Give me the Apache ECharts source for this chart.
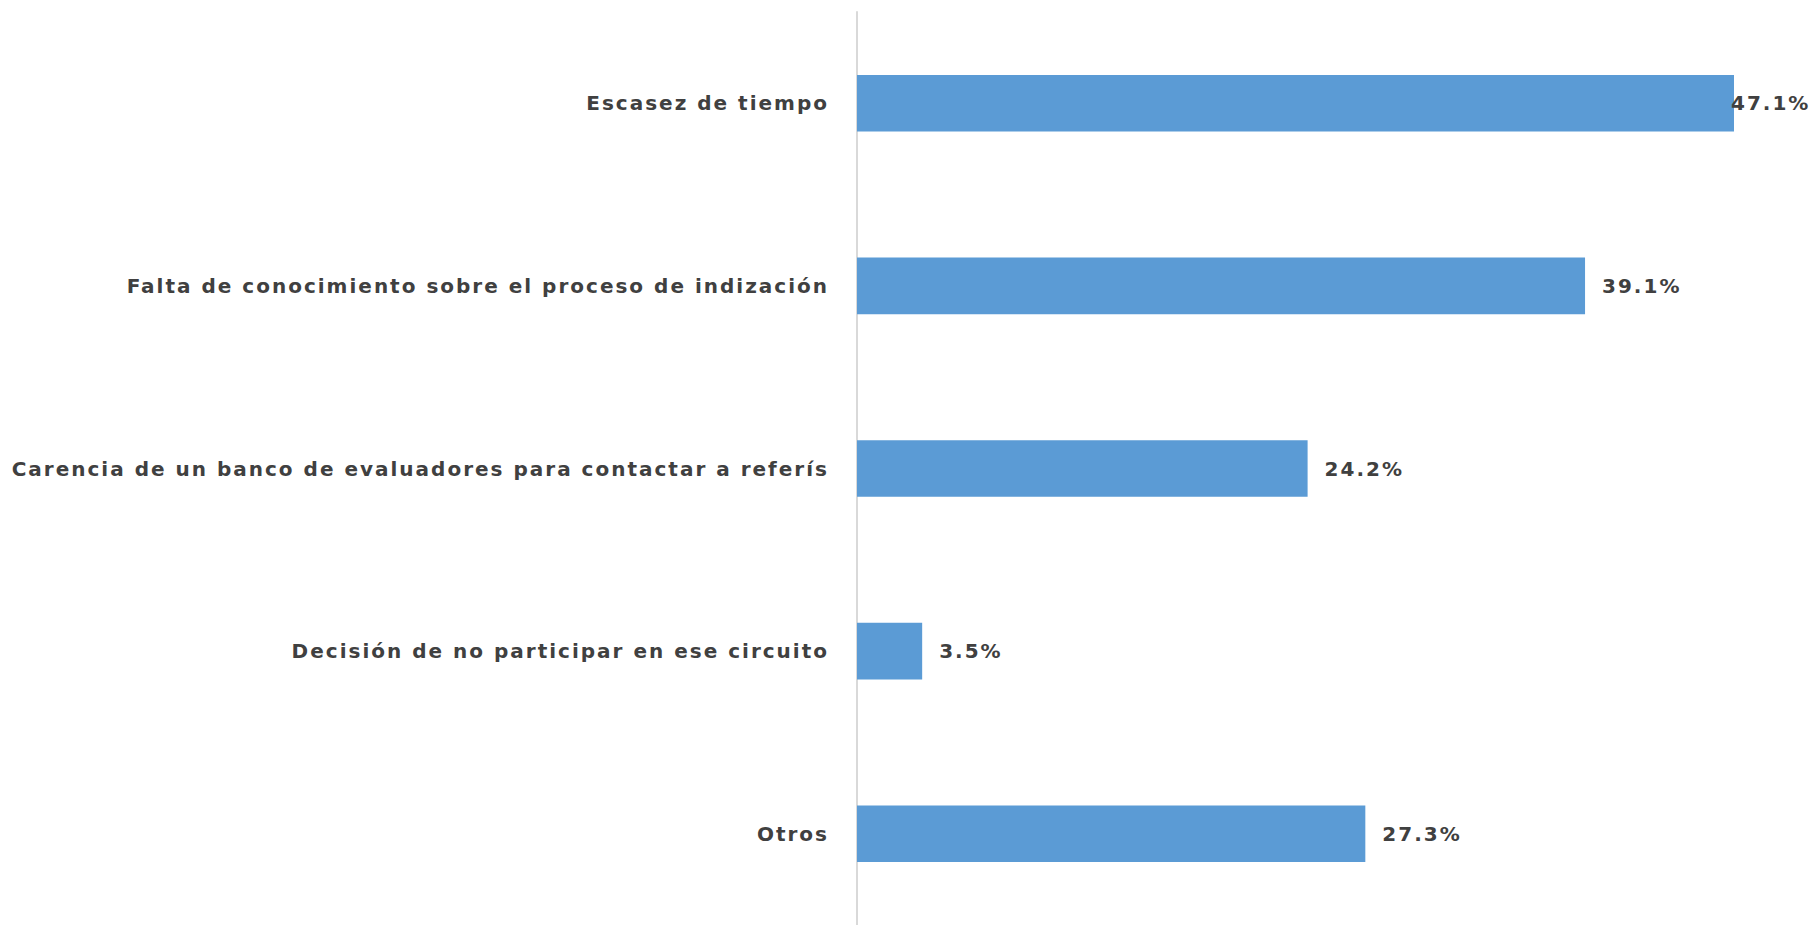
<!DOCTYPE html>
<html>
<head>
<meta charset="utf-8">
<script src="https://cdn.jsdelivr.net/npm/echarts@6/dist/echarts.min.js"></script>
<style>
html,body{margin:0;padding:0;background:#fff}
#c{width:1814px;height:925px}
#c svg text{letter-spacing:2px}
</style>
</head>
<body>
<div id="c"></div>
<script>
const categories = [
  "Escasez de tiempo",
  "Falta de conocimiento sobre el proceso de indización",
  "Carencia de un banco de evaluadores para contactar a referís",
  "Decisión de no participar en ese circuito",
  "Otros"
];
const values = [47.1, 39.1, 24.2, 3.5, 27.3];

const chart = echarts.init(document.getElementById('c'), null, { renderer: 'svg' });
chart.setOption({
  animation: false,
  backgroundColor: '#ffffff',
  grid: { left: 857, width: 931, top: 12, height: 918, containLabel: false },
  xAxis: {
    type: 'value', min: 0, max: 50,
    show: false
  },
  yAxis: {
    type: 'category', data: categories, inverse: true,
    axisLine: { show: true, lineStyle: { color: '#d9d9d9', width: 2 } },
    axisTick: { show: false },
    axisLabel: {
      margin: 28, color: '#404040', fontFamily: 'DejaVu Sans', fontWeight: 'bold', fontSize: 20
    }
  },
  series: [{
    type: 'bar',
    barWidth: '31%',
    itemStyle: { color: '#5B9BD5' },
    data: values.map((v, i) => i === 0
      ? { value: v, label: { distance: -3 } }
      : v),
    label: {
      show: true, position: 'right', distance: 17,
      formatter: p => p.value.toFixed(1) + '%',
      color: '#404040', fontFamily: 'DejaVu Sans', fontWeight: 'bold', fontSize: 20
    }
  }]
});
</script>
</body>
</html>
